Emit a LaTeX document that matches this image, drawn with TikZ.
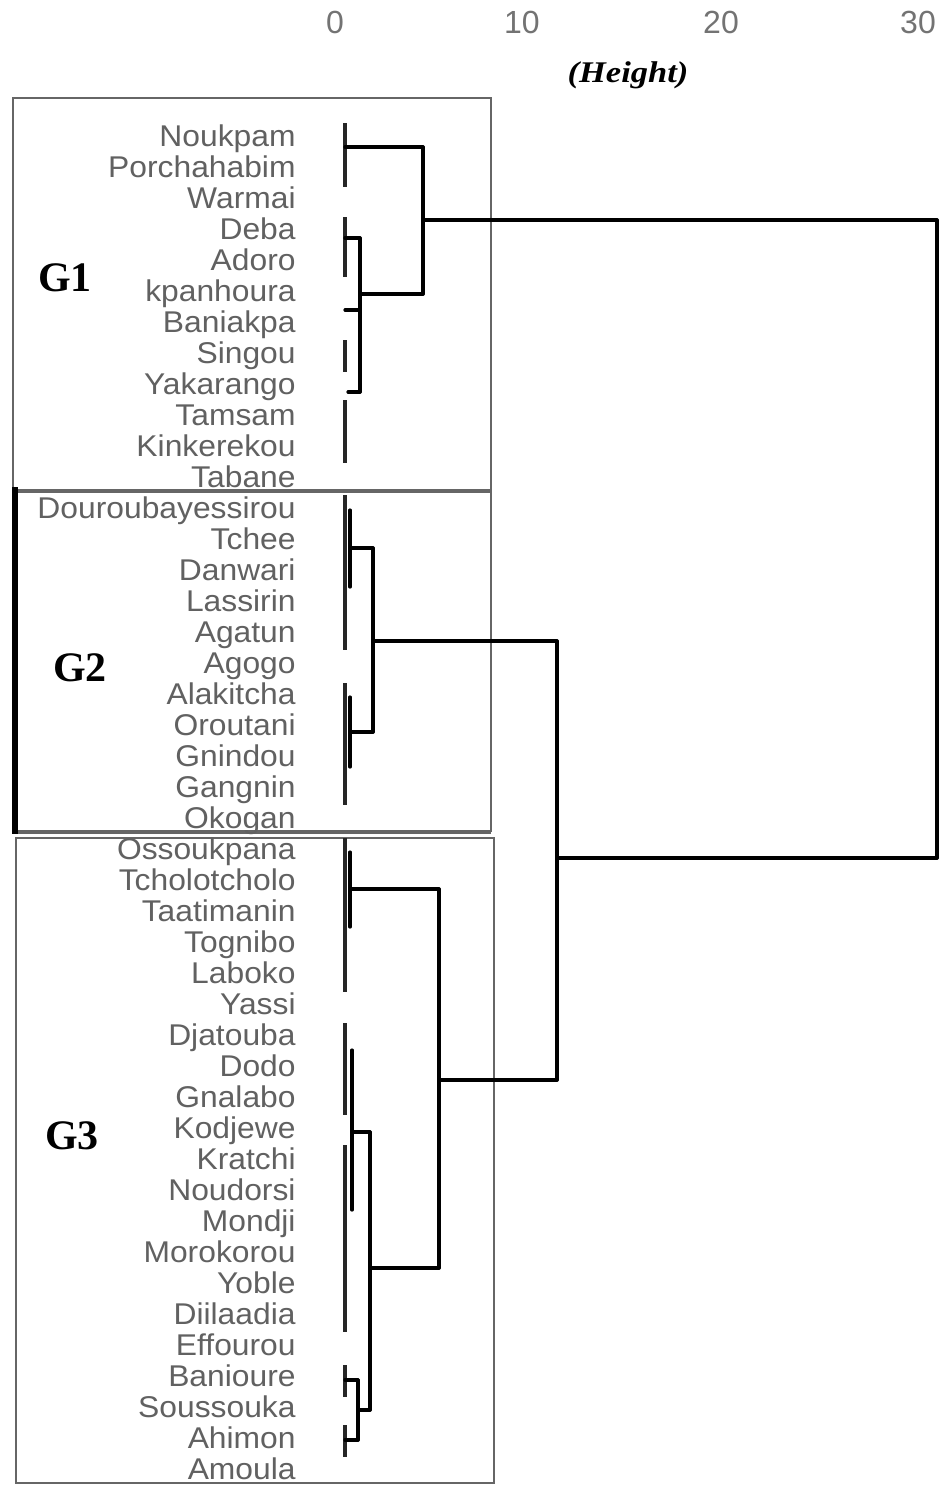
\documentclass[tikz,border=0pt]{standalone}
\usepackage{fontspec}
\setmainfont{Liberation Serif}
\newfontfamily\labfont{Liberation Sans}
\begin{document}
\begin{tikzpicture}[x=0.5pt,y=-0.5pt,
  leaf/.style={anchor=base east,inner sep=0pt,text=black!62,xscale=1.06,font=\labfont\fontsize{15}{15}\selectfont},
  tick/.style={inner sep=0pt,text=black!55,font=\labfont\fontsize{16}{16}\selectfont},
  glab/.style={inner sep=0pt,font=\bfseries\fontsize{21}{21}\selectfont},
  dend/.style={line width=1.6pt,black,line cap=round},
  stub/.style={line width=1.7pt,black!85},
  gbox/.style={draw=black!60,line width=1.1pt},
  gthick/.style={draw=black!60,line width=2.2pt}]
\useasboundingbox (0,0) rectangle (949,1485);
\fill[white] (0,0) rectangle (949,1485);
% axis
\node[tick] (t0) at (335,22) {0};
\node[tick] (t10) at (522,22) {10};
\node[tick] (t20) at (721,22) {20};
\node[tick] (t30) at (918,22) {30};
\node[inner sep=0pt,font=\bfseries\itshape\fontsize{15}{15}\selectfont,xscale=1.15] (ht) at (628,75) {(Height)};
% group boxes
\draw[gbox] (13,98) rectangle (491,491);
\draw[gbox] (491,491) -- (491,832);
\draw[gthick] (15,491) -- (491,491);
\draw[gthick] (15,832) -- (491,832);
\draw[line width=3pt,black] (15,487) -- (15,834);
\draw[gbox] (16,838) rectangle (494,1483);
\node[glab] (g1) at (65,278) {G1};
\node[glab] (g2) at (80,668) {G2};
\node[glab] (g3) at (72,1136) {G3};
% leaves
\foreach \n [count=\i] in {Noukpam,Porchahabim,Warmai,Deba,Adoro,kpanhoura,Baniakpa,Singou,Yakarango,Tamsam,Kinkerekou,Tabane,Douroubayessirou,Tchee,Danwari,Lassirin,Agatun,Agogo,Alakitcha,Oroutani,Gnindou,Gangnin,Okogan,Ossoukpana,Tcholotcholo,Taatimanin,Tognibo,Laboko,Yassi,Djatouba,Dodo,Gnalabo,Kodjewe,Kratchi,Noudorsi,Mondji,Morokorou,Yoble,Diilaadia,Effourou,Banioure,Soussouka,Ahimon,Amoula}
  \node[leaf] (l\i) at (296,{146+(\i-1)*31}) {\n};
% G1 dendrogram
\draw[stub] (345,123) -- (345,187);
\draw[stub] (345,217) -- (345,277);
\draw[stub] (345,340) -- (345,372);
\draw[stub] (345,400) -- (345,463);
\draw[dend] (345,147) -- (423,147);
\draw[dend] (345,238) -- (360,238);
\draw[dend] (345,310) -- (360,310);
\draw[dend] (348,392) -- (360,392);
\draw[dend] (360,238) -- (360,392);
\draw[dend] (360,294) -- (423,294);
\draw[dend] (423,147) -- (423,294);
\draw[dend] (423,220) -- (937,220);
% G2 dendrogram
\draw[stub] (345,495) -- (345,650);
\draw[dend] (350,510) -- (350,587);
\draw[dend] (350,548) -- (373,548);
\draw[stub] (345,683) -- (345,805);
\draw[dend] (350,697) -- (350,767);
\draw[dend] (350,732) -- (373,732);
\draw[dend] (373,548) -- (373,732);
\draw[dend] (373,641) -- (557,641);
% G3 dendrogram
\draw[stub] (345,838) -- (345,992);
\draw[dend] (350,852) -- (350,927);
\draw[dend] (350,889) -- (439,889);
\draw[stub] (345,1023) -- (345,1115);
\draw[stub] (345,1145) -- (345,1332);
\draw[dend] (352,1050) -- (352,1210);
\draw[dend] (352,1132) -- (370,1132);
\draw[stub] (345,1365) -- (345,1397);
\draw[stub] (345,1425) -- (345,1457);
\draw[dend] (345,1380) -- (358,1380);
\draw[dend] (345,1440) -- (358,1440);
\draw[dend] (358,1380) -- (358,1440);
\draw[dend] (358,1410) -- (370,1410);
\draw[dend] (370,1132) -- (370,1410);
\draw[dend] (370,1268) -- (439,1268);
\draw[dend] (439,889) -- (439,1268);
\draw[dend] (439,1080) -- (557,1080);
% top join
\draw[dend] (557,641) -- (557,1080);
\draw[dend] (557,858) -- (937,858);
\draw[dend] (937,220) -- (937,858);
\end{tikzpicture}
\end{document}
